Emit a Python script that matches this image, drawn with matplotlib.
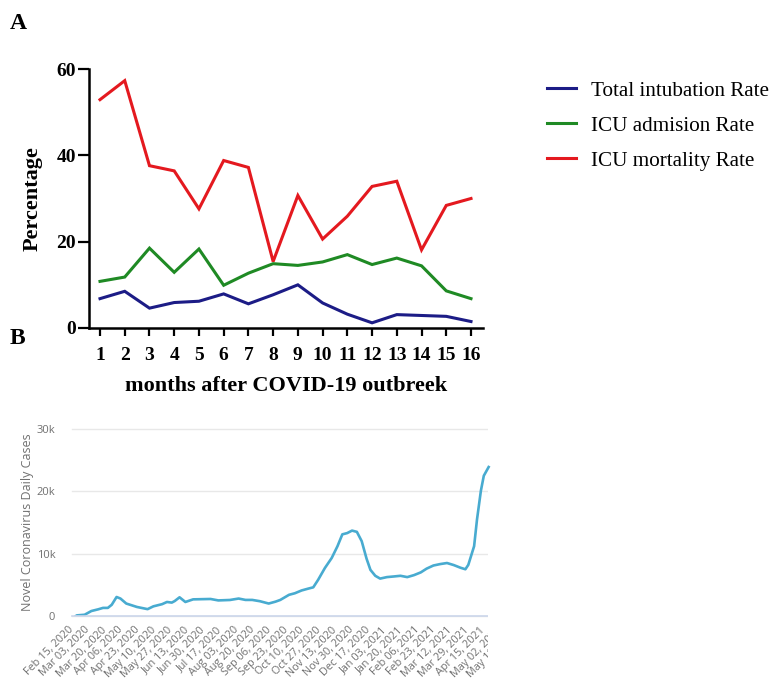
import numpy as np
import matplotlib
matplotlib.use("Agg")
import matplotlib.pyplot as plt
from matplotlib.transforms import Bbox, TransformedBbox

# panel A: monthly rates (%)
months = list(range(1, 17))
intubation_rate = [6.8, 8.5, 4.6, 5.9, 6.2, 7.9, 5.6, 7.7, 10.0, 5.8, 3.2, 1.2, 3.1, 2.9, 2.7, 1.5]
admission_rate = [10.8, 11.8, 18.5, 12.9, 18.3, 9.9, 12.7, 14.9, 14.5, 15.3, 17.0, 14.7, 16.2, 14.4, 8.6, 6.8]
mortality_rate = [52.9, 57.3, 37.6, 36.4, 27.6, 38.8, 37.2, 15.4, 30.7, 20.6, 25.9, 32.8, 34.0, 18.1, 28.4, 30.0]
series_names = ["Total intubation Rate", "ICU admision Rate", "ICU mortality Rate"]
series_colors = ["#1c1c86", "#1f8a24", "#e4191f"]

# panel B: daily cases
case_dates = np.array([
    "2020-02-19", "2020-02-20", "2020-02-28", "2020-03-06", "2020-03-13", "2020-03-18",
    "2020-03-23", "2020-03-27", "2020-04-01", "2020-04-05", "2020-04-11", "2020-04-22",
    "2020-05-03", "2020-05-09", "2020-05-18", "2020-05-23", "2020-05-28", "2020-05-31",
    "2020-06-05", "2020-06-11", "2020-06-19", "2020-07-07", "2020-07-15", "2020-07-27",
    "2020-08-05", "2020-08-12", "2020-08-19", "2020-08-27", "2020-09-05", "2020-09-12",
    "2020-09-17", "2020-09-26", "2020-10-02", "2020-10-09", "2020-10-16", "2020-10-21",
    "2020-10-26", "2020-11-02", "2020-11-09", "2020-11-15", "2020-11-20", "2020-11-25",
    "2020-11-30", "2020-12-05", "2020-12-10", "2020-12-15", "2020-12-19", "2020-12-24",
    "2020-12-29", "2021-01-05", "2021-01-12", "2021-01-19", "2021-01-26", "2021-02-02",
    "2021-02-09", "2021-02-15", "2021-02-22", "2021-03-01", "2021-03-08", "2021-03-15",
    "2021-03-22", "2021-03-27", "2021-03-30", "2021-04-05", "2021-04-08", "2021-04-12",
    "2021-04-15", "2021-04-20"], dtype="datetime64[D]")
daily_cases = [
    0, 100, 200, 800, 1070, 1300,
    1300, 1800, 3050, 2800, 2000, 1450,
    1100, 1550, 1900, 2250, 2150, 2400,
    3000, 2250, 2670, 2730, 2500, 2570,
    2800, 2580, 2580, 2370, 2000, 2300,
    2580, 3400, 3650, 4100, 4400, 4600,
    5800, 7700, 9300, 11200, 13100, 13300,
    13700, 13500, 12000, 9200, 7400, 6450,
    6000, 6240, 6340, 6450, 6240, 6560,
    7000, 7600, 8100, 8330, 8500, 8170,
    7740, 7500, 8200, 11200, 15500, 20100,
    22500, 23900]
case_yticks = [0, 10000, 20000, 30000]
case_ylabels = ["0", "10k", "20k", "30k"]

start = np.datetime64("2020-02-15")
tick_dates = start + np.arange(0, 28) * np.timedelta64(17, "D")
tick_labels = [d.strftime("%b %d, %Y") for d in tick_dates.astype(object)]

W, H = 777, 686
fig = plt.figure(figsize=(W / 100, H / 100), dpi=100)
serif = ["Liberation Serif", "DejaVu Serif"]

# ---- panel A ----
ax = fig.add_axes([89 / W, 1 - 328 / H, (483 - 89) / W, (328 - 69) / H])
for vals, name, col in zip([intubation_rate, admission_rate, mortality_rate], series_names, series_colors):
    ax.plot(months, vals, color=col, lw=2.2, label=name, solid_joinstyle="miter")
ax.set_xlim(0.555, 16.485)
ax.set_ylim(0, 60)
ax.set_xticks(months)
ax.set_yticks([0, 20, 40, 60])
for s in ["top", "right"]:
    ax.spines[s].set_visible(False)
for s in ["left", "bottom"]:
    ax.spines[s].set_linewidth(1.8)
ax.tick_params(axis="x", length=6, width=1.6, pad=8)
ax.tick_params(axis="y", length=8, width=1.6, pad=1.5)
for lbl in ax.get_xticklabels() + ax.get_yticklabels():
    lbl.set_fontfamily(serif)
    lbl.set_fontweight("bold")
    lbl.set_fontsize(14)
ax.set_xlabel("months after COVID-19 outbreek", family=serif, weight="bold", fontsize=16, labelpad=8)
ax.set_ylabel("Percentage", family=serif, weight="bold", fontsize=16, labelpad=10)

fig.legend(loc="upper left", bbox_to_anchor=(528 / W, 1 - 62 / H), frameon=False,
           prop={"family": serif, "size": 15.2}, handlelength=1.35, handletextpad=0.72,
           labelspacing=0.72)

fig.text(10 / W, 1 - 29 / H, "A", family=serif, weight="bold", fontsize=17)
fig.text(10 / W, 1 - 344 / H, "B", family=serif, weight="bold", fontsize=17)

# ---- panel B ----
px_per_day = 0.968
bx_right = 540
days_span = (bx_right - 72) / px_per_day
bx = fig.add_axes([72 / W, 1 - 616 / H, (bx_right - 72) / W, (616 - 429) / H])
bx.plot(case_dates, daily_cases, color="#48abd0", lw=1.9)
bx.set_xlim(start, start + np.timedelta64(int(round(days_span)), "D"))
bx.set_ylim(0, 30000)
bx.set_yticks(case_yticks)
bx.set_yticklabels(case_ylabels)
bx.set_xticks(tick_dates)
bx.set_xticklabels(tick_labels, rotation=45, ha="right", va="center", rotation_mode="anchor")
for s in ["top", "right", "left"]:
    bx.spines[s].set_visible(False)
bx.spines["bottom"].set_color("#ccd6eb")
bx.spines["bottom"].set_linewidth(1.2)
bx.grid(axis="y", color="#e8e8e8", lw=1.0)
bx.set_axisbelow(True)
bx.tick_params(axis="both", length=0, colors="#707070")
bx.tick_params(axis="x", pad=9, labelsize=7.8)
bx.tick_params(axis="y", pad=12, labelsize=8)
for lbl in bx.get_xticklabels() + bx.get_yticklabels():
    lbl.set_fontfamily("Open Sans")
bx.set_ylabel("Novel Coronavirus Daily Cases", family="Open Sans", fontsize=9, color="#707070")
bx.yaxis.set_label_coords((34 - 72) / (bx_right - 72), 0.5)

# the screenshot ends at x=488
clip = TransformedBbox(Bbox([[0, 0], [488 / W, 1]]), fig.transFigure)
for art in bx.get_xticklabels() + bx.yaxis.get_gridlines() + [bx.spines["bottom"]]:
    art.set_clip_on(True)
    art.set_clip_box(clip)

fig.savefig("out.png", dpi=100)
